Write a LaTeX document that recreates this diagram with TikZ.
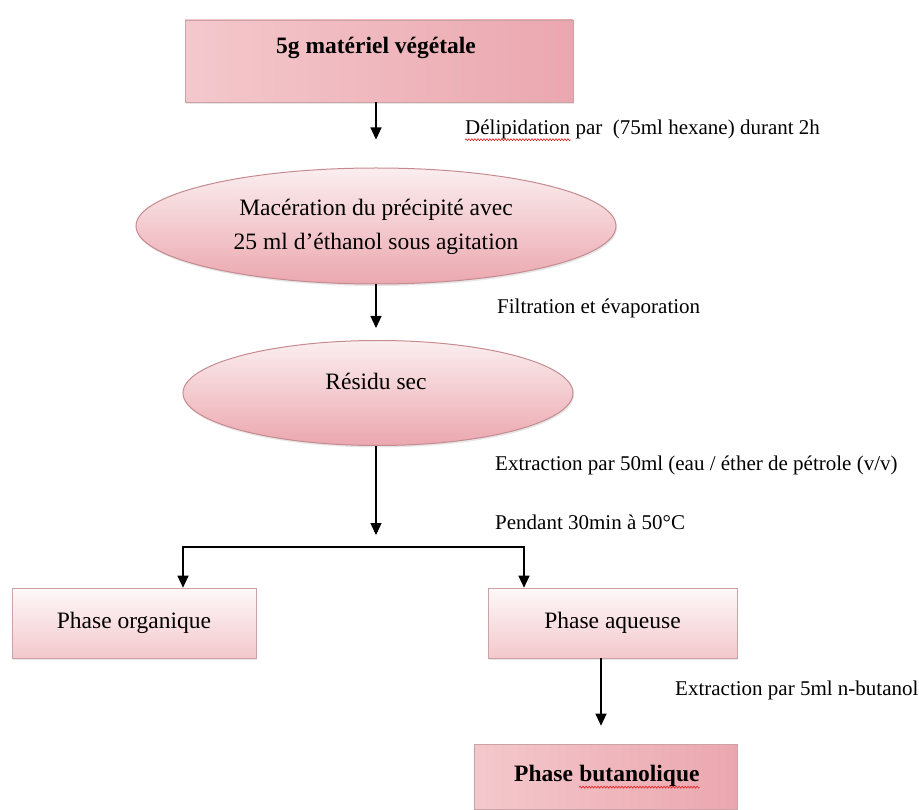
\documentclass[tikz,border=0pt]{standalone}
\usepackage{fontspec}
\setmainfont{Liberation Serif}
\usetikzlibrary{arrows.meta, positioning, shapes.geometric, shadows, decorations.pathmorphing}
\definecolor{pinkdk}{HTML}{EBA7AF}
\definecolor{pinkmd}{HTML}{F3C8CC}
\definecolor{pinklt}{HTML}{FBEEEF}
\definecolor{pinkrim}{HTML}{C68A91}
\definecolor{boxrim}{HTML}{CBA2A5}
\definecolor{spellred}{HTML}{E0201C}
\tikzset{
  txt/.style     = {font=\fontsize{21}{26}\selectfont, inner sep=0pt},
  etxt/.style    = {font=\fontsize{23.5}{34}\selectfont, inner sep=0pt},
  btxt/.style    = {font=\bfseries\fontsize{23.5}{28}\selectfont, inner sep=0pt},
  softshadow/.style = {drop shadow={opacity=0.2, shadow xshift=1pt, shadow yshift=-2pt}},
  headbox/.style = {rectangle, draw=boxrim, line width=0.6pt, softshadow,
                    left color=pinkmd, middle color=pinklt, right color=pinkdk},
  ellbox/.style  = {ellipse, draw=pinkrim, line width=1pt, inner sep=0pt, softshadow,
                    top color=pinklt, bottom color=pinkdk},
  phbox/.style   = {rectangle, draw=boxrim, line width=0.6pt, softshadow,
                    top color=pinklt!40!white, bottom color=pinkmd,
                    font=\fontsize{23.5}{28}\selectfont},
  flow/.style    = {draw=black, line width=1.2pt},
  spellwave/.style = {draw=spellred, line width=0.6pt, decorate,
                      decoration={snake, amplitude=1pt, segment length=3pt}},
}
\begin{document}
\begin{tikzpicture}[x=1pt, y=-1pt, >={Triangle[width=11pt,length=12pt]}]
  \useasboundingbox (0,0) rectangle (919,810);
  % boxes and ellipses
  \node[headbox, minimum width=388pt, minimum height=82pt] (matbox) at (379,61) {};
  \node[btxt] (mat) at (376,48) {5g matériel végétale};
  \node[ellbox, minimum width=480pt, minimum height=116pt] (mac) at (376,226) {};
  \node[etxt, align=center] (mactxt) at (376,227)
    {Macération du précipité avec\\25 ml d'éthanol sous agitation};
  \node[ellbox, minimum width=390pt, minimum height=105pt] (res) at (378,393) {};
  \node[etxt] (restxt) at (376,381) {Résidu sec};
  \node[phbox, minimum width=244pt, minimum height=70pt] (org) at (134,623) {Phase organique};
  \node[phbox, minimum width=249pt, minimum height=70pt] (aq) at (612.5,623) {Phase aqueuse};
  \node[headbox, minimum width=263pt, minimum height=65pt] (butbox) at (605.5,776.5) {};
  \node[btxt, anchor=base west] (butp) at (514,781) {Phase};
  \node[btxt, base right=6pt of butp] (butw) {butanolique};
  % step labels
  \node[txt, anchor=west] (lbldel) at (465,129) {Délipidation};
  \node[txt, base right=5pt of lbldel] (lbldel2) {par\ \ (75ml hexane) durant 2h};
  \node[txt, anchor=west] (lblfil) at (497,308) {Filtration et évaporation};
  \node[txt, anchor=west] (lblext) at (495,465) {Extraction par 50ml (eau / éther de pétrole (v/v)};
  \node[txt, anchor=west] (lblpen) at (495,522) {Pendant 30min à 50°C};
  \node[txt, anchor=west] (lblbut) at (675,690) {Extraction par 5ml n-butanol};
  \draw[spellwave] ([yshift=-1pt]lbldel.south west) -- ([yshift=-1pt]lbldel.south east);
  \draw[spellwave] ([yshift=-1pt]butw.south west) -- ([yshift=-1pt]butw.south east);
  % connectors
  \coordinate (split) at (376,547);
  \coordinate (sl) at (183,547);
  \coordinate (sr) at (524,547);
  \coordinate (bx) at (601,0);
  \draw[flow, ->, shorten >=28pt] (matbox.south -| mac.north) -- (mac.north);
  \draw[flow, ->, shorten >=12pt] (mac.south) -- (mac.south |- res.north);
  \draw[flow, ->, shorten >=12pt] (res.south -| split) -- (split);
  \draw[flow, <->] (sl |- org.north) -- (sl) -- (sr) -- (sr |- aq.north);
  \draw[flow, ->, shorten >=18pt] (aq.south -| bx) -- (butbox.north -| bx);
\end{tikzpicture}
\end{document}
